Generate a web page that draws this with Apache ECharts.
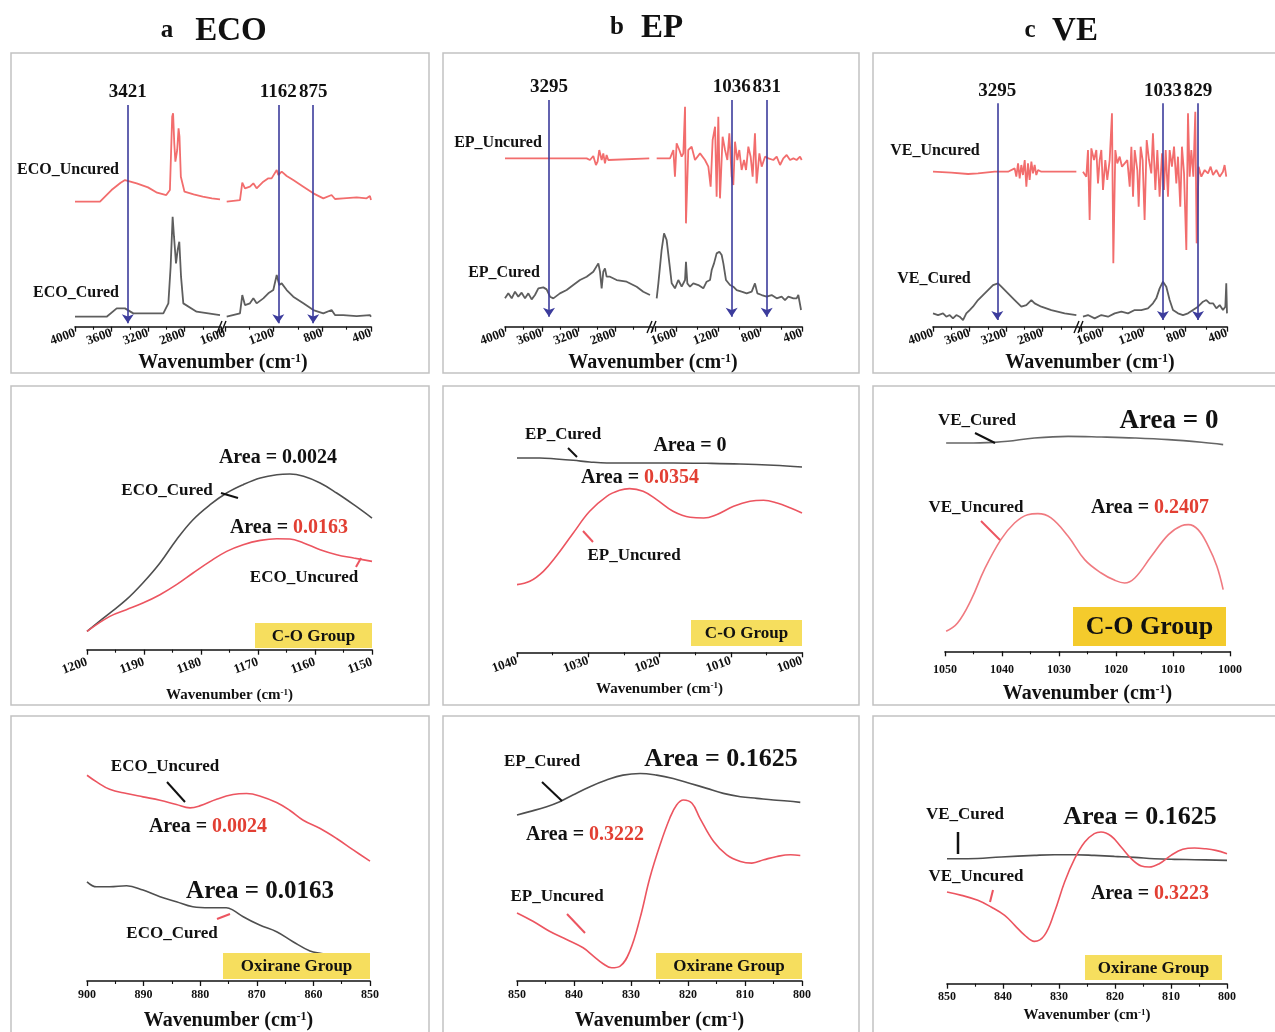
<!DOCTYPE html>
<html><head><meta charset="utf-8">
<script src="https://cdn.jsdelivr.net/npm/echarts@6/dist/echarts.min.js"></script>
<style>html,body{margin:0;padding:0;background:#fff}#c{width:1275px;height:1032px}</style>
</head><body><div id="c"></div>
<script>
// ---------- DATA (wavenumber cm-1, intensity a.u.) ----------
// Row 1: full spectra (left segment 4000-2400, right segment 1800/1600-400)
const ecoUncTopL = [[4000,54.5],[3726,54.5],[3600,58],[3500,60.2],[3452,61],[3324,60],[3200,58.8],[3100,57.2],[3000,56.5],[2960,58],[2935,80],[2925,81],[2912,72],[2900,66.5],[2880,70],[2865,76.5],[2855,74],[2840,62],[2800,57.5],[2700,56.7],[2600,56],[2500,55.5],[2411,55.2]];
const ecoUncTopR = [[1586,54.5],[1477,55],[1458,60.2],[1436,58.5],[1395,59],[1367,60],[1340,58.5],[1285,60.5],[1244,61.5],[1217,61.5],[1175,64],[1162,62.5],[1134,63.5],[1093,62.2],[1039,61],[956,59],[874,57],[792,55.5],[724,56.5],[696,55.3],[628,55.5],[518,55.8],[436,55.5],[409,56.2],[400,55]];
const ecoCurTopL = [[4000,20],[3653,20],[3543,22.5],[3452,22.5],[3361,21],[3032,21],[2977,24],[2952,35],[2930,50],[2915,44],[2893,36],[2875,40],[2857,42.5],[2838,32],[2813,24],[2667,21.5],[2411,20.5]];
const ecoCurTopR = [[1586,20],[1477,21],[1458,26.5],[1436,23.5],[1395,24],[1367,25.5],[1340,24],[1285,25.5],[1244,27],[1203,28],[1175,32.5],[1154,29.5],[1134,30],[1093,28],[1039,26],[956,24],[874,22],[792,21],[724,22],[696,20.5],[628,20.5],[518,20.2],[409,20.5],[400,20]];

const epUncTopL = [[4000,67.5],[3111,67.5],[3075,67],[3039,68.2],[3010,65.5],[2992,66.5],[2974,70],[2948,67],[2930,69],[2912,66],[2894,68.5],[2876,67],[2857,67.5],[2430,67.5]];
const epUncTopR = [[1784,67.5],[1657,67.5],[1625,70],[1610,62],[1594,72],[1568,70],[1546,68],[1530,69],[1514,83],[1505,48],[1483,70],[1451,71],[1419,67],[1371,69],[1324,67],[1292,65],[1270,59],[1251,73],[1228,77],[1213,56],[1197,80],[1181,55.5],[1156,74],[1133,70],[1111,67],[1092,75],[1070,62],[1054,59.5],[1038,72.5],[1016,67],[997,70],[975,64],[952,67],[933,64],[911,71],[889,68],[870,62],[848,75],[832,60],[806,69],[784,65],[752,68],[720,67.5],[673,67],[641,68],[609,65.5],[578,67.5],[546,68.5],[514,67],[482,67.5],[451,67],[419,68],[403,67]];
const epCurTopL = [[4000,25.5],[3964,27],[3927,25.5],[3891,27.5],[3855,26],[3819,27.2],[3782,25.5],[3746,27],[3710,25.2],[3674,26.5],[3637,28.5],[3583,28.8],[3547,28.2],[3510,26],[3474,25.5],[3402,27],[3329,28],[3257,29.5],[3184,31],[3111,32],[3039,33.5],[2984,36],[2966,33.5],[2948,28.5],[2930,33.5],[2912,34.5],[2894,32],[2857,32],[2785,31],[2676,30.5],[2567,29],[2495,27.5],[2422,26.5]];
const epCurTopR = [[1784,25.5],[1768,30],[1737,40],[1714,45],[1689,43],[1663,36],[1641,30],[1610,28.5],[1578,31],[1546,29],[1514,31],[1505,36.5],[1492,30],[1467,29],[1435,30],[1387,29.5],[1340,28.5],[1308,30.5],[1276,31],[1260,34],[1238,36],[1213,39],[1187,39.5],[1165,38.5],[1149,36],[1124,31],[1086,29.5],[1054,29],[1022,28],[975,27.5],[927,27],[879,27.5],[848,30],[825,27],[784,26.5],[736,26],[689,26.5],[641,25.5],[594,26],[562,25],[530,26],[482,25.5],[451,25.5],[435,26.5],[419,27],[409,22]];

const veUncTopL = [[4000,63.5],[3799,63.2],[3616,62.8],[3507,63],[3324,63.5],[3178,63.5],[3105,64.5],[3087,62],[3068,66],[3050,61.5],[3032,65.5],[3014,62.5],[2995,67],[2977,59],[2959,66],[2941,61],[2922,66.5],[2904,63],[2886,65.5],[2868,62.5],[2849,64],[2813,63.5],[2429,63.5]];
const veUncTopR = [[1781,63.5],[1749,62],[1733,70],[1717,49],[1701,70.5],[1675,67],[1653,70],[1637,60],[1621,67],[1605,70],[1589,58],[1567,67],[1548,61],[1525,67],[1503,81],[1490,36],[1471,70],[1452,66],[1429,68],[1407,65],[1381,66],[1356,67],[1333,59],[1317,71],[1301,56],[1285,70],[1260,64],[1247,53],[1228,71],[1209,67],[1190,49],[1170,73],[1148,67],[1126,63],[1110,75],[1087,58],[1068,70],[1046,56],[1023,69],[1004,58],[988,70],[966,56],[950,70],[928,65],[908,71],[886,60],[870,68],[848,53],[832,71],[812,63],[790,40],[774,81],[758,62],[742,70],[723,62],[704,81.5],[691,42],[672,65],[646,62],[614,64],[582,63],[557,65],[534,62.5],[502,64],[470,62],[439,63.5],[423,65.5],[407,62]];
const veCurTopL = [[4000,21],[3945,20.5],[3890,21],[3854,20],[3817,20.5],[3781,19.5],[3744,20.5],[3708,20],[3671,19],[3635,21],[3598,22],[3562,23],[3507,25],[3452,26.5],[3397,28],[3342,29.5],[3288,30],[3251,29],[3178,27],[3105,25],[3032,23],[2977,23.5],[2922,25],[2886,24],[2813,23],[2703,22],[2557,21],[2429,20.5]];
const veCurTopR = [[1781,20],[1733,20.5],[1669,19.5],[1605,20.5],[1541,20],[1477,21],[1413,21.5],[1349,21],[1285,22],[1222,22],[1158,22.5],[1110,24],[1078,25.5],[1046,28.5],[1014,30.5],[982,29],[950,25],[918,22],[870,21],[822,20.5],[774,21],[726,22],[678,23],[630,24.5],[598,25],[566,24],[534,24],[502,22.5],[470,23.5],[439,22],[416,23],[407,30],[400,21]];

// marker arrows (position, printed label)
const arrowPosA = [3421, 1162, 875];  const arrowTextA = ['3421','1162','875'];
const arrowPosB = [3521, 1070, 736];  const arrowTextB = ['3295','1036','831'];
const arrowPosC = [3295, 1014, 678];  const arrowTextC = ['3295','1033','829'];

// Row 2: C-O group
const ecoCurCO = [[1200,25.5],[1196.0,31],[1193.1,35],[1190.2,40],[1187.2,46],[1184.3,53],[1181.4,59],[1178.4,63.5],[1175.5,67],[1172.6,69.5],[1169.6,71.5],[1166.7,72.5],[1164.4,72.7],[1162.0,72],[1159.1,70],[1156.2,67],[1153.2,63.5],[1150,59.5]];
const ecoUncCO = [[1200,25.5],[1196.0,30],[1193.1,32],[1190.2,34],[1187.2,36.5],[1184.3,39.5],[1181.4,43],[1178.4,46.5],[1175.5,49.5],[1172.6,51.5],[1169.6,52.8],[1166.7,53.3],[1164.4,53.2],[1162.0,52],[1159.1,50],[1156.2,48.5],[1153.2,47.5],[1150,46.5]];
const epCurCO = [[1040,77.5],[1036.8,77.5],[1034.5,77.2],[1032.1,76.8],[1029.8,76.3],[1027.4,76],[1022.7,76],[1018.1,76],[1013.4,75.9],[1008.7,75.7],[1004.0,75.3],[1000,74.8]];
const epUncCO = [[1040,39.5],[1038.2,40.5],[1036.3,43.5],[1034.5,48],[1032.1,55],[1029.8,61.5],[1027.4,66],[1025.6,67.8],[1024.2,68.3],[1022.3,67.5],[1020.4,65],[1018.1,61.5],[1015.7,59.7],[1013.8,59.5],[1012.0,60.5],[1009.6,63],[1007.3,64.5],[1005.4,64.8],[1003.5,64],[1001.6,62.5],[1000,61]];
const veCurCO = [[1049.8,82],[1046.0,82],[1041.3,82.2],[1039.0,82.5],[1034.3,83.5],[1028.4,84],[1022.6,83.8],[1016.7,83.5],[1010.8,83],[1005.0,82.2],[1001.2,81.5]];
const veUncCO = [[1049.8,25.5],[1047.8,28],[1045.4,35],[1043.1,44],[1040.2,53],[1037.8,58],[1035.5,60.5],[1033.7,60.8],[1031.4,59.5],[1028.4,54],[1025.5,47],[1022.6,43],[1020.2,40.8],[1018.5,40],[1016.7,41.5],[1013.8,48],[1010.8,54.5],[1008.5,57.2],[1007.3,57.5],[1005.6,56],[1003.8,51],[1002.3,45],[1001.2,38]];

// Row 3: oxirane group
const ecoUncOx = [[900,81],[898.3,79],[896.0,76.8],[893.0,75.5],[890.1,74.5],[887.1,73.5],[884.2,72.2],[881.8,71.2],[880.1,71.8],[877.1,73.8],[874.2,75.2],[871.8,75.5],[869.5,74.8],[866.5,72.8],[864.2,70.5],[861.8,67.5],[858.8,65],[855.9,62],[852.9,58.5],[850,55.2]];
const ecoCurOx = [[900,49],[898.3,47.5],[896.0,47.5],[893.0,47.8],[890.1,46.5],[887.1,44.5],[884.2,43],[881.3,41.5],[878.3,41.2],[875.4,41.2],[874.2,40.5],[872.4,38.5],[869.5,36],[866.5,34],[863.6,31],[860.6,28.2],[858.8,27.5],[857.7,27.3]];
const epCurOx = [[850,69],[847.8,70],[844.8,71.5],[842.5,73],[840.2,75],[837.2,77.5],[834.3,79.5],[831.4,81],[828.4,81.5],[825.5,81],[822.6,80],[819.6,78.5],[816.7,77],[813.8,75.5],[810.8,74.5],[807.9,74],[805.0,73.5],[802.6,73.2],[800.3,72.8]];
const epUncOx = [[850,39.5],[847.2,37],[844.3,34],[841.3,31.5],[838.4,29],[836.6,26.5],[834.9,24.2],[833.4,23],[831.9,23.5],[830.2,28],[828.4,38],[826.7,50],[824.9,60],[823.2,68],[822.0,72],[820.8,73.5],[819.3,72.5],[817.9,68],[815.5,61],[813.2,57],[810.8,55],[808.8,54.5],[806.7,55.5],[804.4,56.5],[802.0,57],[800.3,56.8]];
const veCurOx = [[850,56],[846.3,56],[840.3,56.5],[834.4,57],[830.8,57.2],[827.2,57.2],[823.7,57],[820.1,56.7],[816.5,56.4],[813.0,56],[809.4,55.8],[805.8,55.7],[800,55.5]];
const veUncOx = [[850,46],[847.4,45],[844.5,43.5],[842.1,41.5],[839.7,39],[837.9,36],[836.1,33],[834.4,31.2],[832.6,33],[830.8,40],[829.0,49],[827.2,56],[825.4,61],[823.7,63.5],[822.5,64],[820.7,62.8],[818.9,59.5],[817.1,56],[815.3,53.8],[813.9,53.5],[812.1,54.5],[810.0,57],[807.9,58.8],[805.8,59.2],[804.0,59],[802.0,58.5],[800,57.5]];

const areaCO = ['0.0024','0.0163','0','0.0354','0','0.2407'];
const areaOx = ['0.0024','0.0163','0.1625','0.3222','0.1625','0.3223'];
const panelTitles = [['a','ECO'],['b','EP'],['c','VE']];

// ---------- STYLE ----------
const FONT = "'Liberation Serif','Times New Roman',serif";
const RED_T = '#f26d6d', GRAY_T = '#5e5e5e', RED = '#ec5560', GRAY = '#4f4f4f', RED_TXT = '#e23f33', ARROW = '#3c3c9c', INK = '#111';

const chart = echarts.init(document.getElementById('c'), null, {renderer:'canvas'});

const grids = [
  {left:75, top:50, width:146, height:276.7},
  {left:225, top:50, width:146, height:276.7},
  {left:505, top:50, width:147, height:276.7},
  {left:655, top:50, width:147, height:276.7},
  {left:933, top:50, width:146, height:276.7},
  {left:1081, top:50, width:146, height:276.7},
  {left:87, top:383, width:285, height:266.7},
  {left:517, top:383, width:285, height:269.3},
  {left:945, top:383, width:285, height:268.3},
  {left:87, top:712, width:283, height:269.3},
  {left:517, top:712, width:285, height:270},
  {left:947, top:712, width:280, height:271.7}
];
const yMins = [17,17,17,17,17,17,20,19.2,19.5,19.2,19,18.5];

function wnName(size){
  return {
    name:'{n|Wavenumber (cm}{s|-1}{n|)}',
    nameTextStyle:{rich:{
      n:{fontSize:size, fontWeight:'bold', fontFamily:FONT, color:INK},
      s:{fontSize:Math.round(size*0.6), fontWeight:'bold', fontFamily:FONT, color:INK, verticalAlign:'top'}
    }}
  };
}
function lab(rot, fs, margin, extra){
  return Object.assign({rotate:rot, fontSize:fs, fontWeight:'bold', fontFamily:FONT, color:INK, margin,
    formatter:v=>String(v)}, extra||{});
}
function xAx(g, min, max, interval, label, extra){
  return Object.assign({
    type:'value', gridIndex:g, min, max, interval, inverse:true,
    axisLine:{onZero:false, lineStyle:{color:INK, width:1.6}},
    axisTick:{show:true, inside:false, length:5, lineStyle:{color:INK, width:1.3}},
    minorTick:{show:true, splitNumber:2, length:3, lineStyle:{color:INK, width:1.1}},
    splitLine:{show:false}, minorSplitLine:{show:false},
    axisLabel:label
  }, extra||{});
}
const xAxes = [
  xAx(0,2400,4000,400,lab(20,13,6,{showMinLabel:false})),
  xAx(1,400,1600,400,lab(20,13,6)),
  xAx(2,2400,4000,400,lab(20,13,6,{showMinLabel:false})),
  xAx(3,400,1800,400,lab(20,13,6,{showMaxLabel:false})),
  xAx(4,2400,4000,400,lab(20,13,6,{showMinLabel:false})),
  xAx(5,400,1800,400,lab(20,13,6,{showMaxLabel:false})),
  xAx(6,1150,1200,10,lab(20,13,12),Object.assign({nameLocation:'middle', nameGap:38}, wnName(15))),
  xAx(7,1000,1040,10,lab(20,13,8),Object.assign({nameLocation:'middle', nameGap:29}, wnName(15))),
  xAx(8,1000,1050,10,lab(0,12,13),Object.assign({nameLocation:'middle', nameGap:33}, wnName(20))),
  xAx(9,850,900,10,lab(0,12,8),Object.assign({nameLocation:'middle', nameGap:30}, wnName(20))),
  xAx(10,800,850,10,lab(0,12,8),Object.assign({nameLocation:'middle', nameGap:30}, wnName(20))),
  xAx(11,800,850,10,lab(0,12,7),Object.assign({nameLocation:'middle', nameGap:24}, wnName(15)))
];
const yAxes = yMins.map((m,i)=>({type:'value', gridIndex:i, min:m, max:100, show:false}));

function arrowML(pos, text, top, bot, left){
  const items = [];
  pos.forEach((p,i)=>{ if ((p > 2000) === left) items.push([{name:text[i], coord:[p, top]}, {coord:[p, bot]}]); });
  return {
    silent:true, animation:false, symbol:['none','arrow'], symbolSize:9,
    lineStyle:{color:ARROW, width:1.6, type:'solid'},
    emphasis:{disabled:true},
    label:{show:true, position:'start', distance:3, formatter:p=>p.name, fontSize:19, fontWeight:'bold', fontFamily:FONT, color:INK},
    data:items
  };
}
function ln(g, data, color, width, smooth, extra){
  return Object.assign({type:'line', xAxisIndex:g, yAxisIndex:g, data, showSymbol:false, symbol:'none',
    smooth:smooth, lineStyle:{color, width}, silent:true, animation:false, z:3}, extra||{});
}

const series = [
  ln(0, ecoUncTopL, RED_T, 1.8, false, {markLine:arrowML(arrowPosA, arrowTextA, 83.5, 18, true)}),
  ln(1, ecoUncTopR, RED_T, 1.8, false, {markLine:arrowML(arrowPosA, arrowTextA, 83.5, 18, false)}),
  ln(0, ecoCurTopL, GRAY_T, 1.8, false),
  ln(1, ecoCurTopR, GRAY_T, 1.8, false),
  ln(2, epUncTopL, RED_T, 1.8, false, {markLine:arrowML(arrowPosB, arrowTextB, 85, 20, true)}),
  ln(3, epUncTopR, RED_T, 1.8, false, {markLine:arrowML(arrowPosB, arrowTextB, 85, 20, false)}),
  ln(2, epCurTopL, GRAY_T, 1.8, false),
  ln(3, epCurTopR, GRAY_T, 1.8, false),
  ln(4, veUncTopL, RED_T, 1.8, false, {markLine:arrowML(arrowPosC, arrowTextC, 84, 19, true)}),
  ln(5, veUncTopR, RED_T, 1.8, false, {markLine:arrowML(arrowPosC, arrowTextC, 84, 19, false)}),
  ln(4, veCurTopL, GRAY_T, 1.8, false),
  ln(5, veCurTopR, GRAY_T, 1.8, false),
  ln(6, ecoCurCO, GRAY, 1.6, 0.4), ln(6, ecoUncCO, RED, 1.6, 0.4),
  ln(7, epCurCO, GRAY, 1.6, 0.4), ln(7, epUncCO, RED, 1.6, 0.4),
  ln(8, veCurCO, '#666', 1.6, 0.4), ln(8, veUncCO, '#f07a80', 1.6, 0.4),
  ln(9, ecoUncOx, RED, 1.6, 0.4), ln(9, ecoCurOx, GRAY, 1.6, 0.4),
  ln(10, epCurOx, GRAY, 1.6, 0.4), ln(10, epUncOx, RED, 1.6, 0.4),
  ln(11, veCurOx, GRAY, 1.6, 0.4), ln(11, veUncOx, RED, 1.6, 0.4)
];

// ---------- annotations ----------
const G = [];
function txt(x, y, text, size, color){
  G.push({type:'text', x, y, z:100, silent:true, style:{text, font:`bold ${size}px ${FONT}`, fill:color||INK,
    align:'center', verticalAlign:'middle', textAlign:'center', textVerticalAlign:'middle'}});
}
function area(x, y, val, size, red){
  G.push({type:'text', x, y, z:100, silent:true, style:{text:`{k|Area = }{v|${val}}`,
    rich:{k:{fontSize:size, fontWeight:'bold', fontFamily:FONT, fill:INK, color:INK},
          v:{fontSize:size, fontWeight:'bold', fontFamily:FONT, fill:red?RED_TXT:INK, color:red?RED_TXT:INK}},
    align:'center', verticalAlign:'middle', textAlign:'center', textVerticalAlign:'middle'}});
}
function seg(x1,y1,x2,y2,color,w){
  G.push({type:'line', z:100, silent:true, shape:{x1,y1,x2,y2}, style:{stroke:color||INK, lineWidth:w||1.8}});
}
function box(x,y,w,h,text,size,fill){
  G.push({type:'rect', z:90, silent:true, shape:{x,y,width:w,height:h}, style:{fill:fill||'#f6de5e'}});
  txt(x+w/2, y+h/2+1, text, size, INK);
}
function frame(x,y,w,h){
  G.push({type:'rect', z:0, silent:true, shape:{x,y,width:w,height:h}, style:{fill:null, stroke:'#c2c2c2', lineWidth:1.5}});
}
function wnGraphic(x,y,size){
  G.push({type:'text', x, y, z:100, silent:true, style:{text:'{n|Wavenumber (cm}{s|-1}{n|)}',
    rich:{n:{fontSize:size, fontWeight:'bold', fontFamily:FONT, fill:INK},
          s:{fontSize:Math.round(size*0.6), fontWeight:'bold', fontFamily:FONT, fill:INK, verticalAlign:'top'}},
    align:'center', verticalAlign:'middle', textAlign:'center', textVerticalAlign:'middle'}});
}

// frames
[[11,53,418,320],[443,53,416,320],[873,53,404,320],
 [11,386,418,319],[443,386,416,319],[873,386,404,319],
 [11,716,418,330],[443,716,416,330],[873,716,404,330]].forEach(r=>frame(...r));

// titles
txt(167,31,panelTitles[0][0],25); txt(231,31,panelTitles[0][1],33);
txt(617,28,panelTitles[1][0],25); txt(662,28,panelTitles[1][1],33);
txt(1030,31,panelTitles[2][0],25); txt(1075,31,panelTitles[2][1],33);

// row 1
txt(68,170,'ECO_Uncured',16); txt(76,293,'ECO_Cured',16);
txt(498,143,'EP_Uncured',16); txt(504,273,'EP_Cured',16);
txt(935,151,'VE_Uncured',16); txt(934,279,'VE_Cured',16);
wnGraphic(223,363,20); wnGraphic(653,363,20); wnGraphic(1090,363,20);
[[217,221],[647,651],[1074,1078]].forEach(([a,b])=>{ seg(a,333,a+5,321,INK,1.4); seg(b,333,b+5,321,INK,1.4); });

// row 2
area(278,458,areaCO[0],20,false); txt(167,491,'ECO_Cured',17); seg(221,493,238,498,INK,2);
area(289,528,areaCO[1],20,true); txt(304,578,'ECO_Uncured',17); seg(356,567,361,558,RED,2);
box(255,623,117,25,'C-O Group',17);
txt(563,435,'EP_Cured',17); seg(568,448,577,457,INK,2); area(690,446,areaCO[2],20,false);
area(640,478,areaCO[3],20,true); txt(634,556,'EP_Uncured',17); seg(583,531,593,542,RED,2);
box(691,620,111,26,'C-O Group',17);
txt(977,421,'VE_Cured',17); seg(975,433,995,443,INK,2); area(1169,421,areaCO[4],27,false);
txt(976,508,'VE_Uncured',17); seg(981,521,1000,540,RED,2); area(1150,508,areaCO[5],20,true);
box(1073,607,153,39,'C-O Group',26,'#f4cb2c');

// row 3
txt(165,767,'ECO_Uncured',17); seg(167,782,185,802,INK,2);
area(208,827,areaOx[0],20,true); area(260,892,areaOx[1],25,false);
txt(172,934,'ECO_Cured',17); seg(217,919,230,914,RED,2);
box(223,953,147,26,'Oxirane Group',17);
txt(542,762,'EP_Cured',17); seg(542,782,562,801,INK,2); area(721,759,areaOx[2],26,false);
area(585,835,areaOx[3],20,true); txt(557,897,'EP_Uncured',17); seg(567,914,585,933,RED,2);
box(656,953,146,26,'Oxirane Group',17);
txt(965,815,'VE_Cured',17); seg(958,832,958,854,INK,2.5); area(1140,817,areaOx[4],26,false);
txt(976,877,'VE_Uncured',17); seg(993,890,990,902,RED,2); area(1150,894,areaOx[5],20,true);
box(1085,955,137,25,'Oxirane Group',17);

chart.setOption({
  backgroundColor:'#fff', animation:false,
  grid:grids.map(g=>Object.assign({containLabel:false}, g)),
  xAxis:xAxes, yAxis:yAxes, series,
  graphic:{elements:G}
});
</script></body></html>
